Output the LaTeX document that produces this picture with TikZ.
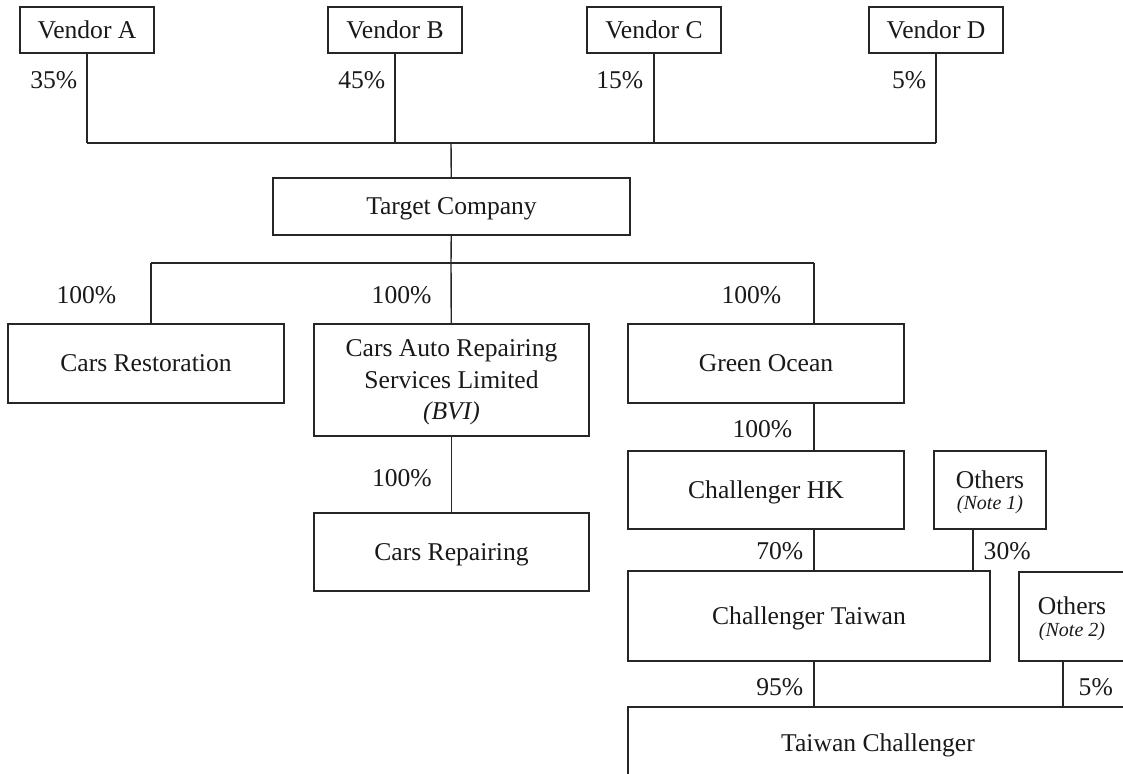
\documentclass[tikz,border=0pt]{standalone}
\usepackage{fontspec}
\setmainfont{Liberation Serif}
\usepackage{tikz}

\begin{document}
\begin{tikzpicture}[x=0.5pt,y=-0.5pt,line width=0.7pt,draw=black!85,
        font=\fontsize{12.8}{15.75}\selectfont,text=black!90,
        box/.style={draw,rectangle,inner sep=0pt,align=center,text depth=0pt},
        pct/.style={inner sep=0pt}]
        \useasboundingbox (0,0) rectangle (1123,774);
        \clip (0,0) rectangle (1123,774);

        % shareholders
        \node (vena) [box, minimum width=67pt, minimum height=23pt] at (87,30) {Vendor A};
        \node (venb) [box, minimum width=67pt, minimum height=23pt] at (395,30) {Vendor B};
        \node (venc) [box, minimum width=67pt, minimum height=23pt] at (654,30) {Vendor C};
        \node (vend) [box, minimum width=67pt, minimum height=23pt] at (936,30) {Vendor D};
        \node (target) [box, minimum width=178.5pt, minimum height=28.5pt] at (451.5,206.5) {Target Company};

        % subsidiaries
        \node (restore) [box, minimum width=138pt, minimum height=39.5pt] at (146,363.5) {Cars Restoration};
        \node (autorep) [box, minimum width=137.5pt, minimum height=56pt] at (451.5,380) {Cars Auto Repairing\\Services Limited\\\textit{(BVI)}};
        \node (green) [box, minimum width=138pt, minimum height=39.5pt] at (766,363.5) {Green Ocean};
        \node (repair) [box, minimum width=137.5pt, minimum height=39pt] at (451.5,552) {Cars Repairing};
        \node (chk) [box, minimum width=138pt, minimum height=39pt] at (766,490) {Challenger HK};
        \node (oth1) [box, minimum width=56pt, minimum height=39pt] at (990,490) {Others\\[-5pt]{\fontsize{10}{11}\selectfont\itshape (Note 1)}};
        \node (ctw) [box, minimum width=181pt, minimum height=45pt] at (809,616) {Challenger Taiwan};
        \node (oth2) [box, minimum width=53pt, minimum height=44.5pt] at (1072,616.5) {Others\\[-5pt]{\fontsize{10}{11}\selectfont\itshape (Note 2)}};
        \node (twc) [box, minimum width=250pt, minimum height=36pt] at (878,743) {Taiwan Challenger};

        \coordinate (bus1) at (451,143);
        \coordinate (bus2) at (451,263);
        \coordinate (bus2l) at (151,263);
        \coordinate (bus2r) at (814,263);

        \draw (vena) -- node[pct, pos=.3, left=4.5pt] {35\%} (vena |- bus1);
        \draw (venb) -- node[pct, pos=.3, left=4.5pt] {45\%} (venb |- bus1);
        \draw (venc) -- node[pct, pos=.3, left=5pt] {15\%} (venc |- bus1);
        \draw (vend) -- node[pct, pos=.3, left=4.5pt] {5\%} (vend |- bus1);
        \draw (vena |- bus1) -- (vend |- bus1);
        \draw (bus1) -- (target);

        \draw (target) -- (bus2);
        \draw (bus2l) -- (bus2r);
        \draw (bus2l) -- node[pct, pos=.54, left=17pt] {100\%} (bus2l |- restore.north);
        \draw (bus2) -- node[pct, pos=.54, left=9.5pt] {100\%} (autorep);
        \draw (bus2r) -- node[pct, pos=.54, left=16pt] {100\%} (bus2r |- green.north);
        \draw (autorep) -- node[pct, pos=.55, left=9.5pt] {100\%} (repair);
        \draw (bus2r |- green.south) -- node[pct, pos=.54, left=10.5pt] {100\%} (bus2r |- chk.north);
        \draw (bus2r |- chk.south) -- node[pct, pos=.52, left=5pt] {70\%} (bus2r |- ctw.north);
        \draw ([xshift=-8.5pt]oth1.south) -- node[pct, pos=.52, right=5pt] {30\%} ([xshift=-8.5pt]oth1.south |- ctw.north);
        \draw (bus2r |- ctw.south) -- node[pct, pos=.57, left=5pt] {95\%} (bus2r |- twc.north);
        \draw ([xshift=-4.5pt]oth2.south) -- node[pct, pos=.57, right=7.5pt] {5\%} ([xshift=-4.5pt]oth2.south |- twc.north);
    \end{tikzpicture}
\end{document}
